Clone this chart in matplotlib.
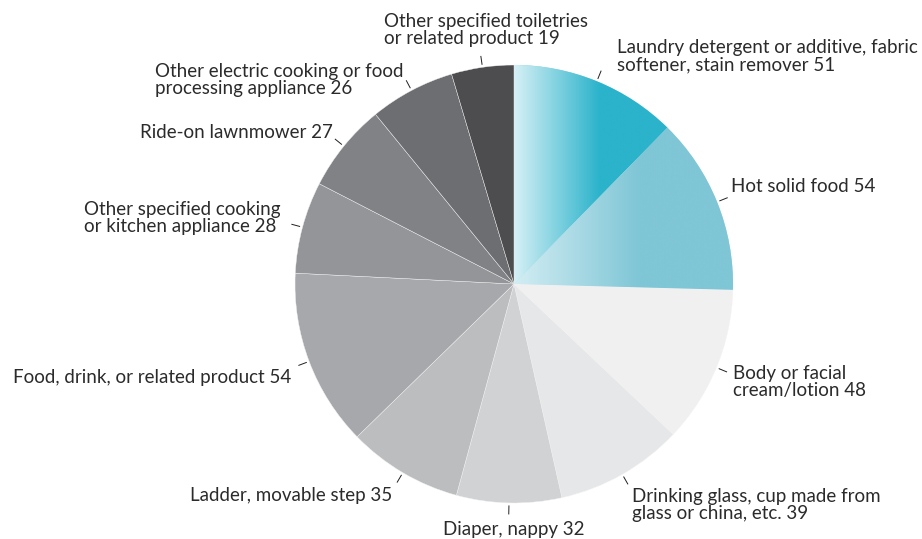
import numpy as np
import matplotlib
matplotlib.use('Agg')
import matplotlib.pyplot as plt
from matplotlib.colors import LinearSegmentedColormap

# data, clockwise from 12 o'clock
labels = ["Laundry detergent or additive, fabric\nsoftener, stain remover",
          "Hot solid food",
          "Body or facial\ncream/lotion",
          "Drinking glass, cup made from\nglass or china, etc.",
          "Diaper, nappy",
          "Ladder, movable step",
          "Food, drink, or related product",
          "Other specified cooking\nor kitchen appliance",
          "Ride-on lawnmower",
          "Other electric cooking or food\nprocessing appliance",
          "Other specified toiletries\nor related product"]
values = [51, 54, 48, 39, 32, 35, 54, 28, 27, 26, 19]
colors = ["#2ab3cb", "#7fc6d6", "#f0f0f1", "#e6e7e8", "#d1d2d4", "#bcbdbf",
          "#a7a8ab", "#939598", "#808285", "#6d6e71", "#4d4d4f"]

# label anchor (pixels from top-left) and alignment
label_pos = [(617, 56, "left"), (731, 186, "left"), (733, 382, "left"),
             (632, 505, "left"), (514, 530, "center"), (392, 495, "right"),
             (291, 378, "right"), (280, 218, "right"), (333, 133, "right"),
             (155, 80, "left"), (384, 30, "left")]

W, H = 922, 539
cx, cy, R = 514, H - 284, 219

plt.rcParams['font.family'] = ['Lato', 'DejaVu Sans']
fig = plt.figure(figsize=(9.22, 5.39), dpi=100)
ax = fig.add_axes([0, 0, 1, 1])
ax.set_xlim(0, W)
ax.set_ylim(0, H)
ax.set_aspect('equal')
ax.axis('off')

wedges, _ = ax.pie(values, colors=colors, startangle=90, counterclock=False,
                   center=(cx, cy), radius=R,
                   wedgeprops=dict(edgecolor='#f4f4f4', linewidth=0.3))
ax.set_xlim(0, W)
ax.set_ylim(0, H)

# gradient fills on the two teal slices
grads = [("#d6f0f5", "#2ab3cb", 600), ("#d3edf3", "#7fc6d6", 640)]
for w, (c0, c1, xend) in zip(wedges[:2], grads):
    cmap = LinearSegmentedColormap.from_list("g", [c0, c1])
    xs = np.linspace(cx, cx + R, 300)
    g = np.clip((xs - cx) / (xend - cx), 0, 1)[None, :]
    im = ax.imshow(g, cmap=cmap, vmin=0, vmax=1, aspect='auto',
                   extent=[cx, cx + R, cy - 10, cy + R], zorder=w.get_zorder() + 0.1)
    im.set_clip_path(w)

total = sum(values)
cum = 0
for v, lab, (lx, ly, ha) in zip(values, labels, label_pos):
    mid = 90 - (cum + v / 2) / total * 360
    cum += v
    a = np.deg2rad(mid)
    ax.plot([cx + (R + 3) * np.cos(a), cx + (R + 11) * np.cos(a)],
            [cy + (R + 3) * np.sin(a), cy + (R + 11) * np.sin(a)],
            color='#231f20', lw=0.7)
    ax.text(lx, H - ly, f"{lab} {v}", ha=ha, ma='left', va='center',
            fontsize=13.5, color='#2b2b2b', linespacing=1.0)

fig.savefig("out.png", dpi=100)
